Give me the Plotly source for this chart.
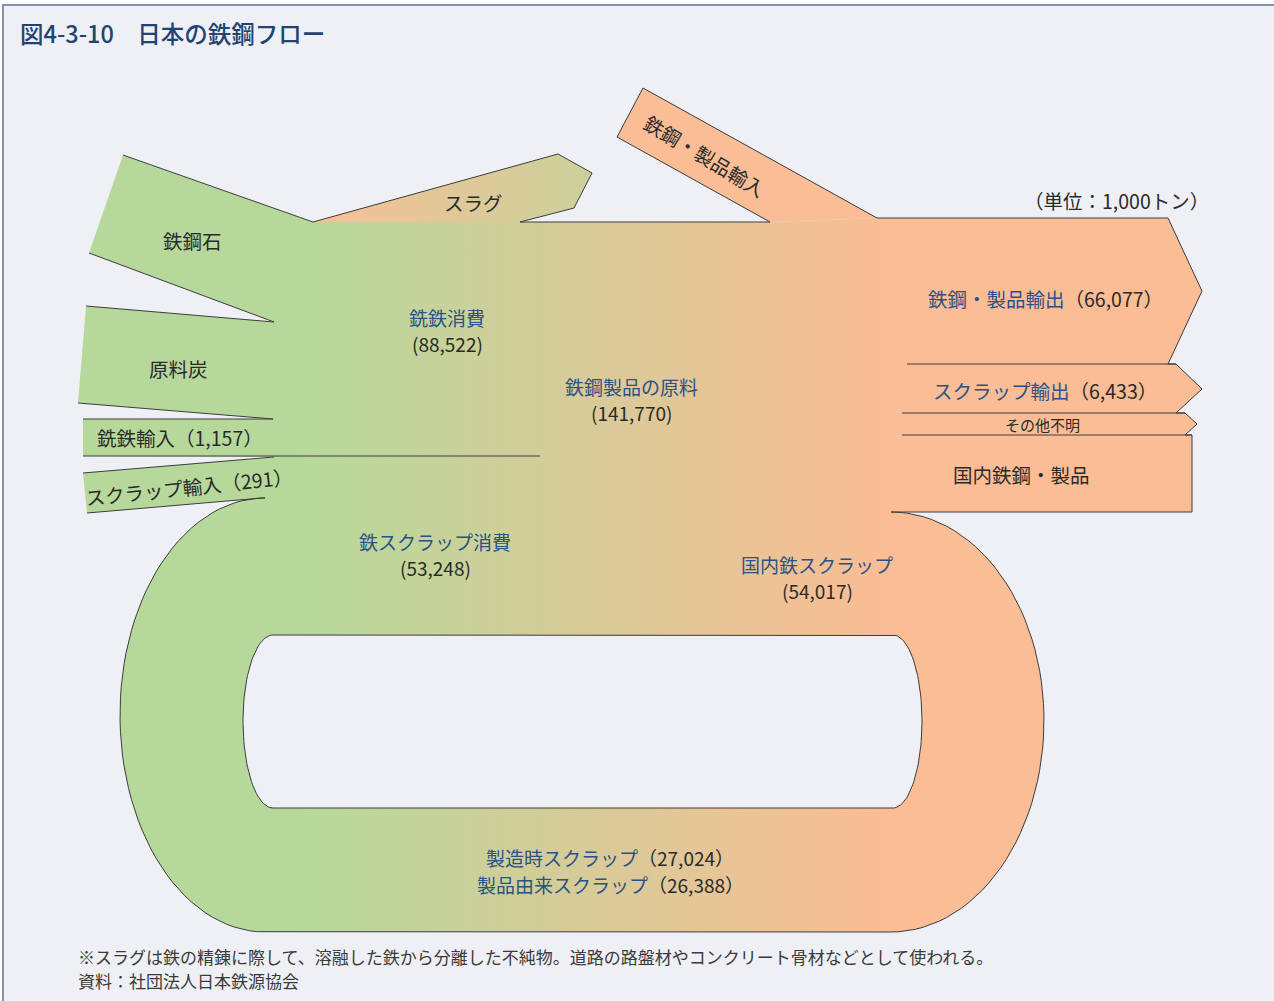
import numpy as np
import plotly.graph_objects as go

# ---- data (unit: 1,000 t) ----
flow_names = ["銑鉄消費", "鉄鋼製品の原料", "鉄スクラップ消費", "国内鉄スクラップ",
              "鉄鋼・製品輸出", "スクラップ輸出", "製造時スクラップ", "製品由来スクラップ",
              "銑鉄輸入", "スクラップ輸入"]
flow_values = [88522, 141770, 53248, 54017, 66077, 6433, 27024, 26388, 1157, 291]
plain_names = ["鉄鋼石", "原料炭", "スラグ", "鉄鋼・製品輸入", "その他不明", "国内鉄鋼・製品"]

title = "図4-3-10　日本の鉄鋼フロー"
unit_note = "（単位：1,000トン）"
footnote = "※スラグは鉄の精錬に際して、溶融した鉄から分離した不純物。道路の路盤材やコンクリート骨材などとして使われる。"
source = "資料：社団法人日本鉄源協会"

val = dict(zip(flow_names, flow_values))

GREEN = "#b6d99b"
SALMON = "#fabd95"
BG = "#eef0f5"
LINE = "#3c3c3c"
BLUE = "#2b5286"
DARK = "#2a2a2a"
FONT = "Noto Sans CJK JP"
LS = 19.5  # label font size


def arc(cx, cy, rx, ry_top, ry_bot, t0, t1, side, n=60):
    pts = []
    for t in np.linspace(t0, t1, n):
        ry = ry_top if np.sin(t) < 0 else ry_bot
        pts.append((cx + side * rx * np.cos(t), cy + ry * np.sin(t)))
    return pts


right_outer = arc(891, 720, 153, 208, 212, -np.pi / 2, np.pi / 2, 1)
left_outer = arc(265, 715, 145, 217, 217, np.pi / 2, -np.pi / 2, -1)
hole = ([(273, 635), (893, 635)] + arc(893, 721, 29, 86, 87, -np.pi / 2, np.pi / 2, 1)
        + [(273, 808)] + arc(273, 721, 30, 86, 87, np.pi / 2, -np.pi / 2, -1))

right_edge = [(877, 218), (1168, 218), (1202, 291), (1168, 364), (1176, 364), (1202, 389),
              (1176, 413), (1185, 413), (1197, 424), (1185, 435), (1192, 435), (1192, 512), (897, 512)]
left_edge = [(87, 513), (83, 473), (274, 457), (83, 456), (83, 419), (273, 419),
             (78, 403), (86, 306), (274, 322), (89, 253), (123, 155), (313, 222)]

main_poly = [(313, 222), (770, 222)] + right_edge + right_outer + [(267, 932)] + left_outer + left_edge
slag_poly = [(313, 222), (558, 154), (592, 173), (574, 208), (520, 222)]
import_poly = [(617, 137), (643, 88), (877, 218), (770, 222)]


def xy(pts, close=False):
    if close:
        pts = pts + [pts[0]]
    return [p[0] for p in pts], [p[1] for p in pts]


fig = go.Figure()

x, y = xy(main_poly, True)
fig.add_trace(go.Scatter(x=x, y=y, fill="toself", mode="lines", line=dict(width=0),
                         fillgradient=dict(type="horizontal", colorscale=[[0, GREEN], [1, SALMON]],
                                           start=300, stop=880),
                         hoverinfo="skip"))
x, y = xy(slag_poly, True)
fig.add_trace(go.Scatter(x=x, y=y, fill="toself", mode="lines", line=dict(width=0),
                         fillgradient=dict(type="horizontal", colorscale=[[0, "#f4c097"], [1, "#cbd19a"]],
                                           start=330, stop=590),
                         hoverinfo="skip"))
x, y = xy(import_poly, True)
fig.add_trace(go.Scatter(x=x, y=y, fill="toself", mode="lines", line=dict(width=0),
                         fillcolor=SALMON, hoverinfo="skip"))
x, y = xy(hole, True)
fig.add_trace(go.Scatter(x=x, y=y, fill="toself", mode="lines", line=dict(width=0),
                         fillcolor=BG, hoverinfo="skip"))

# outlines
outlines = [
    [(123, 155), (313, 222), (558, 154), (592, 173), (574, 208), (520, 222), (770, 222),
     (617, 137), (643, 88)] + right_edge + right_outer + [(267, 932)] + left_outer + [(262, 498), (87, 513)],
    [(83, 473), (274, 457)],
    [(83, 456), (540, 456)],
    [(83, 419), (273, 419)],
    [(78, 403), (273, 419)],
    [(86, 306), (274, 322)],
    [(89, 253), (274, 322)],
    [(907, 364), (1176, 364)],
    [(902, 413), (1185, 413)],
    [(902, 435), (1192, 435)],
    hole + [hole[0]],
]
ox, oy = [], []
for seg in outlines:
    sx, sy = xy(seg)
    ox += sx + [None]
    oy += sy + [None]
fig.add_trace(go.Scatter(x=ox, y=oy, mode="lines", line=dict(color=LINE, width=1),
                         hoverinfo="skip"))


def fw(name):
    return f"<span style='color:{BLUE}'>{name}</span>（{val[name]:,}）"


ann = [
    (title, 19, 33, 23.5, "#1f4373", "left", 0),
    (plain_names[0], 192, 240, LS, DARK, "center", 0),
    (plain_names[1], 178, 368, LS, DARK, "center", 0),
    (f"銑鉄輸入（{val['銑鉄輸入']:,}）", 180, 437, LS, DARK, "center", 0),
    (f"スクラップ輸入（{val['スクラップ輸入']:,}）", 189, 486, LS, DARK, "center", -6),
    (plain_names[2], 473, 202, LS, DARK, "center", 0),
    (plain_names[3], 705, 155, LS, DARK, "center", 31),
    (unit_note, 1116, 200, LS, DARK, "center", 0),
    (fw("鉄鋼・製品輸出"), 1045, 298, LS, DARK, "center", 0),
    (fw("スクラップ輸出"), 1045, 390, LS, DARK, "center", 0),
    (plain_names[4], 1042, 424, 15, DARK, "center", 0),
    (plain_names[5], 1021, 474, LS, DARK, "center", 0),
    (fw("製造時スクラップ"), 610, 857, 19, DARK, "center", 0),
    (fw("製品由来スクラップ"), 610, 884, 19, DARK, "center", 0),
    (footnote, 77, 956, 17, "#3a3a3a", "left", 0),
    (source, 77, 980, 17, "#3a3a3a", "left", 0),
]
# two-line labels: name (blue) above, value (dark) below
for name, cx, cy in [("銑鉄消費", 447, 317), ("鉄鋼製品の原料", 631, 386),
                     ("鉄スクラップ消費", 435, 541), ("国内鉄スクラップ", 817, 564)]:
    ann.append((name, cx, cy, 19, BLUE, "center", 0))
    ann.append((f"({val[name]:,})", cx, cy + 26, 19, DARK, "center", 0))

annotations = []
for text, ax, ay, size, color, anchor, angle in ann:
    annotations.append(dict(text=text, x=ax, y=ay, xref="x", yref="y", showarrow=False,
                            xanchor=anchor, yanchor="middle", textangle=angle, align="center",
                            borderpad=0,
                            font=dict(family=FONT, size=size, color=color)))
annotations[0]["font"]["weight"] = 500

fig.update_layout(
    width=1274, height=1001,
    margin=dict(l=0, r=0, t=0, b=0),
    paper_bgcolor="white", plot_bgcolor="rgba(0,0,0,0)",
    showlegend=False,
    xaxis=dict(range=[0, 1274], visible=False, fixedrange=True),
    yaxis=dict(range=[1001, 0], visible=False, fixedrange=True),
    shapes=[dict(type="rect", xref="x", yref="y", x0=3, y0=5, x1=1290, y1=1010,
                 fillcolor=BG, line=dict(color="#8593aa", width=2), layer="below")],
    annotations=annotations,
)

fig.write_html("out.html", config={"displayModeBar": False},
               post_script="document.body.style.margin='0';document.body.style.overflow='hidden';")
